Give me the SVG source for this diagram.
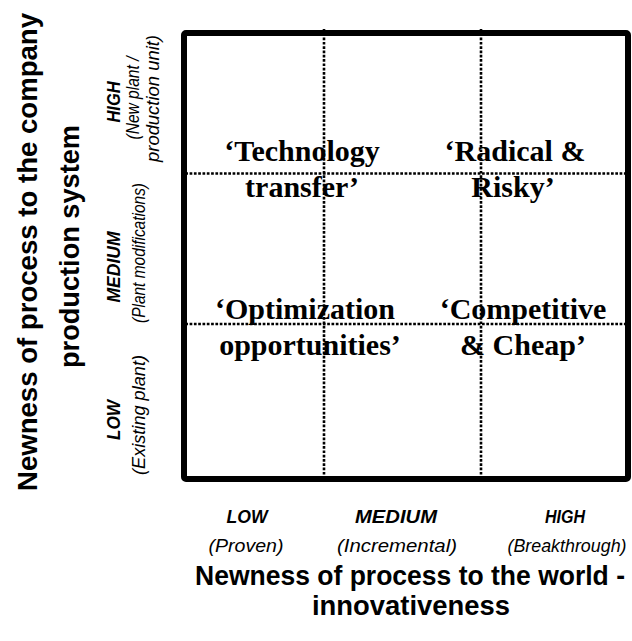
<svg xmlns="http://www.w3.org/2000/svg" width="632" height="641" viewBox="0 0 632 641">
  <style>
    .grid { stroke: #000; stroke-width: 2.6; stroke-dasharray: 2.7 1.6; fill: none; }
    .frame { stroke: #000; stroke-width: 6; fill: none; }
    .quad { font-family: "Liberation Serif", "Times New Roman", serif; font-weight: bold; font-size: 30px; fill: #000; text-anchor: middle; }
    .title { font-family: "Liberation Sans", Arial, sans-serif; font-weight: bold; font-size: 27px; fill: #000; text-anchor: middle; }
    .ytitle { font-size: 28px; }
    .lvl { font-family: "Liberation Sans", Arial, sans-serif; font-weight: bold; font-style: italic; font-size: 18px; fill: #000; text-anchor: middle; }
    .sub { font-family: "Liberation Sans", Arial, sans-serif; font-style: italic; font-size: 18.5px; fill: #000; text-anchor: middle; }
  </style>
  <rect width="632" height="641" fill="#fff"/>

  <!-- quadrant labels -->
  <g id="technology-transfer">
    <text class="quad" x="302" y="161">‘Technology</text>
    <text class="quad" x="302" y="197">transfer’</text>
  </g>
  <g id="radical-risky">
    <text class="quad" x="515" y="161">‘Radical &amp;</text>
    <text class="quad" x="513" y="197">Risky’</text>
  </g>
  <g id="optimization-opportunities">
    <text class="quad" x="305" y="319">‘Optimization</text>
    <text class="quad" x="310" y="355">opportunities’</text>
  </g>
  <g id="competitive-cheap">
    <text class="quad" x="523" y="319">‘Competitive</text>
    <text class="quad" x="523" y="355">&amp; Cheap’</text>
  </g>

  <!-- dotted grid dividing the matrix into cells -->
  <g id="connectors">
    <line class="grid" x1="324" y1="29" x2="324" y2="482"/>
    <line class="grid" x1="481" y1="29" x2="481" y2="482"/>
    <line class="grid" x1="181" y1="173.5" x2="631" y2="173.5"/>
    <line class="grid" x1="181" y1="324" x2="631" y2="324"/>
  </g>

  <!-- matrix frame -->
  <g id="matrix">
    <rect class="frame" x="184" y="33" width="444" height="446" rx="2"/>
  </g>

  <!-- vertical axis -->
  <g id="y-axis-title">
    <text class="title ytitle" transform="translate(37,252) rotate(-90)" textLength="478" lengthAdjust="spacingAndGlyphs">Newness of process to the company</text>
    <text class="title ytitle" transform="translate(79,246.5) rotate(-90)" textLength="243" lengthAdjust="spacingAndGlyphs">production system</text>
  </g>
  <g id="y-high">
    <text class="lvl" transform="translate(120,102) rotate(-90)" textLength="41" lengthAdjust="spacingAndGlyphs">HIGH</text>
    <text class="sub" transform="translate(139,98) rotate(-90)" textLength="83" lengthAdjust="spacingAndGlyphs">(New plant /</text>
    <text class="sub" transform="translate(159,98.5) rotate(-90)" textLength="127" lengthAdjust="spacingAndGlyphs">production unit)</text>
  </g>
  <g id="y-medium">
    <text class="lvl" transform="translate(120,267) rotate(-90)" textLength="71" lengthAdjust="spacingAndGlyphs">MEDIUM</text>
    <text class="sub" transform="translate(145,253) rotate(-90)" textLength="140" lengthAdjust="spacingAndGlyphs">(Plant modifications)</text>
  </g>
  <g id="y-low">
    <text class="lvl" transform="translate(120,420) rotate(-90)" textLength="40" lengthAdjust="spacingAndGlyphs">LOW</text>
    <text class="sub" transform="translate(145,415) rotate(-90)" textLength="120" lengthAdjust="spacingAndGlyphs">(Existing plant)</text>
  </g>

  <!-- horizontal axis -->
  <g id="x-low">
    <text class="lvl" x="247" y="523" textLength="41" lengthAdjust="spacingAndGlyphs">LOW</text>
    <text class="sub" x="246" y="552" textLength="75" lengthAdjust="spacingAndGlyphs">(Proven)</text>
  </g>
  <g id="x-medium">
    <text class="lvl" x="396" y="523" textLength="82" lengthAdjust="spacingAndGlyphs">MEDIUM</text>
    <text class="sub" x="397" y="552" textLength="120" lengthAdjust="spacingAndGlyphs">(Incremental)</text>
  </g>
  <g id="x-high">
    <text class="lvl" x="565" y="523" textLength="40" lengthAdjust="spacingAndGlyphs">HIGH</text>
    <text class="sub" x="567" y="552" textLength="119" lengthAdjust="spacingAndGlyphs">(Breakthrough)</text>
  </g>
  <g id="x-axis-title">
    <text class="title" x="410" y="585" textLength="430" lengthAdjust="spacingAndGlyphs">Newness of process to the world -</text>
    <text class="title" x="411" y="615" textLength="198" lengthAdjust="spacingAndGlyphs">innovativeness</text>
  </g>
</svg>
